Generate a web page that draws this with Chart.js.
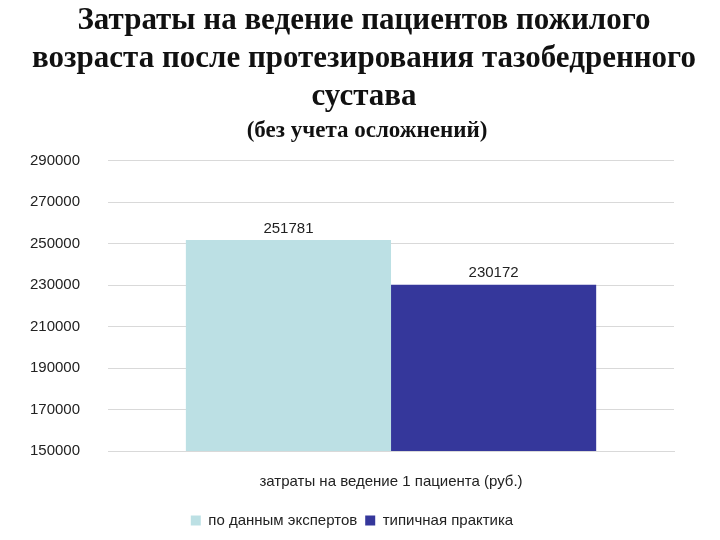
<!DOCTYPE html>
<html><head><meta charset="utf-8">
<script src="https://cdn.jsdelivr.net/npm/chart.js@4"></script>
<style>
body{margin:0;background:#fff;width:720px;height:540px;overflow:hidden;position:relative}
#t{position:absolute;top:0px;left:0;width:728px;text-align:center;font-family:"Liberation Serif",serif;font-weight:bold;font-size:31px;line-height:38px;color:#111;white-space:nowrap}
#s{position:absolute;top:117px;left:0;width:734px;text-align:center;font-family:"Liberation Serif",serif;font-weight:bold;font-size:23px;color:#111}
canvas{position:absolute;top:0;left:0}
</style></head><body>
<canvas id="c" width="720" height="540"></canvas>
<div id="t">Затраты на ведение пациентов пожилого<br>возраста после протезирования тазобедренного<br>сустава</div>
<div id="s">(без учета осложнений)</div>
<script>
const categories=["затраты на ведение 1 пациента (руб.)"];
const seriesNames=["по данным экспертов","типичная практика"];
const expertValues=[251781];
const typicalValues=[230172];
const colors=["#BCE0E4","#35379B"];
const labelPlugin={id:'lbl',afterDatasetsDraw(ch){const c=ch.ctx;c.save();c.font='15px "Liberation Sans", Arial';c.fillStyle='#222';c.textAlign='center';c.textBaseline='bottom';
ch.data.datasets.forEach((d,i)=>{ch.getDatasetMeta(i).data.forEach((b,j)=>{c.fillText(String(d.data[j]),b.x,b.y-4);});});c.restore();}};
new Chart(document.getElementById('c'),{type:'bar',
data:{labels:categories,datasets:[
{label:seriesNames[0],data:expertValues,backgroundColor:colors[0]},
{label:seriesNames[1],data:typicalValues,backgroundColor:colors[1]}]},
options:{responsive:false,animation:false,devicePixelRatio:1,
layout:{padding:{top:140,left:30,right:46,bottom:2}},
datasets:{bar:{categoryPercentage:0.725,barPercentage:1}},
scales:{y:{min:150000,max:300000,ticks:{stepSize:10000,callback:v=>String(v),crossAlign:'far',padding:14,color:'#222',font:{family:'"Liberation Sans", Arial',size:15}},grid:{color:'#d9d9d9',drawTicks:false},border:{display:false}},
x:{grid:{display:false},border:{color:'#d9d9d9'},ticks:{color:'#222',padding:14,font:{family:'"Liberation Sans", Arial',size:15}}}},
plugins:{legend:{position:'bottom',labels:{boxWidth:10,boxHeight:10,color:'#222',padding:8,font:{family:'"Liberation Sans", Arial',size:15}}},tooltip:{enabled:false}}},
plugins:[labelPlugin]});
</script></body></html>
